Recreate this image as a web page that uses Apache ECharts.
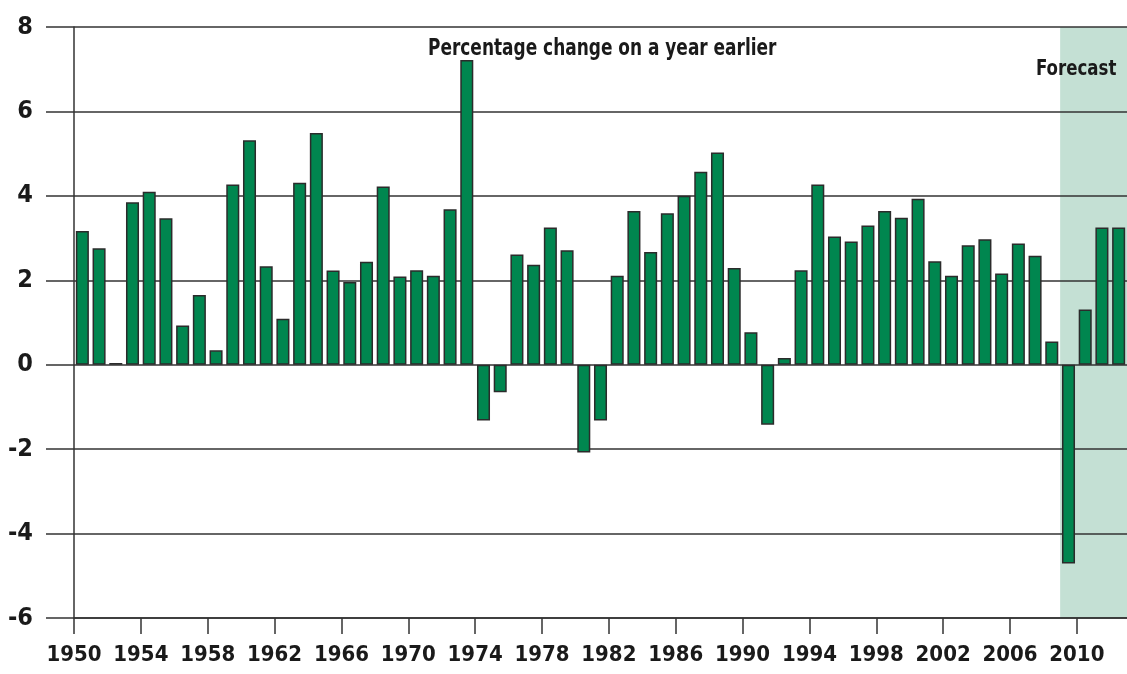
<!DOCTYPE html>
<html>
<head>
<meta charset="utf-8">
<script src="https://cdn.jsdelivr.net/npm/echarts@6/dist/echarts.min.js"></script>
<style>
  html, body { margin: 0; padding: 0; background: #fff; }
  #chart { width: 1127px; height: 674px; }
</style>
</head>
<body>
<div id="chart"></div>
<script>
var years = ['1950','1951','1952','1953','1954','1955','1956','1957','1958','1959',
  '1960','1961','1962','1963','1964','1965','1966','1967','1968','1969',
  '1970','1971','1972','1973','1974','1975','1976','1977','1978','1979',
  '1980','1981','1982','1983','1984','1985','1986','1987','1988','1989',
  '1990','1991','1992','1993','1994','1995','1996','1997','1998','1999',
  '2000','2001','2002','2003','2004','2005','2006','2007','2008','2009',
  '2010','2011','2012'];
var growth = [3.17, 2.76, 0.04, 3.85, 4.1, 3.47, 0.93, 1.65, 0.34, 4.27,
  5.32, 2.33, 1.09, 4.31, 5.49, 2.23, 1.96, 2.44, 4.22, 2.09,
  2.24, 2.11, 3.68, 7.22, -1.32, -0.65, 2.61, 2.37, 3.25, 2.71,
  -2.08, -1.32, 2.11, 3.64, 2.67, 3.59, 4.0, 4.57, 5.03, 2.29,
  0.77, -1.42, 0.16, 2.24, 4.27, 3.04, 2.92, 3.3, 3.64, 3.48,
  3.93, 2.45, 2.11, 2.83, 2.97, 2.16, 2.87, 2.58, 0.55, -4.71,
  1.31, 3.25, 3.25];
var tickYears = [1950,1954,1958,1962,1966,1970,1974,1978,1982,1986,1990,1994,1998,2002,2006,2010];
var forecastFrom = 2009;
var forecastTo = 2013; // end of 2012 slot

var font = '"DejaVu Sans Condensed", "DejaVu Sans", sans-serif';
var chart = echarts.init(document.getElementById('chart'));

var option = {
  animation: false,
  backgroundColor: '#fff',
  grid: { left: 74, right: 0, top: 27, bottom: 56, outerBoundsMode: 'none' },
  graphic: [
    {
      type: 'text',
      x: 428, y: 38,
      scaleX: 0.82,
      z: 10,
      style: {
        text: 'Percentage change on a year earlier',
        font: 'bold 23px ' + font,
        fill: '#1a1a1a',
        textVerticalAlign: 'top'
      }
    },
    {
      type: 'text',
      x: 1036, y: 58,
      scaleX: 0.84,
      z: 10,
      style: {
        text: 'Forecast',
        font: 'bold 22px ' + font,
        fill: '#1a1a1a',
        textVerticalAlign: 'top'
      }
    }
  ],
  xAxis: [
    {
      type: 'category',
      data: years,
      position: 'bottom',
      boundaryGap: true,
      z: 3,
      axisLine: { show: true, onZero: false, lineStyle: { color: '#333', width: 1.5 } },
      axisTick: { show: false },
      axisLabel: { show: false },
      splitLine: { show: false }
    },
    {
      // year scale used for the labelled ticks and the forecast band
      type: 'value',
      position: 'bottom',
      min: 1950, max: forecastTo, interval: 4,
      z: 3,
      axisLine: { show: false, onZero: false },
      axisTick: { show: true, length: 16, customValues: tickYears, lineStyle: { color: '#333', width: 1.5 } },
      axisLabel: {
        margin: 26,
        customValues: tickYears,
        fontFamily: font, fontWeight: 'bold', fontSize: 22, color: '#1a1a1a',
        formatter: function (v) { return String(v); }
      },
      splitLine: { show: false }
    }
  ],
  yAxis: {
    type: 'value',
    min: -6, max: 8, interval: 2,
    z: 3,
    axisLine: { show: true, onZero: false, lineStyle: { color: '#333', width: 1.5 } },
    axisTick: { show: true, length: 28, lineStyle: { color: '#333', width: 1.5 } },
    axisLabel: {
      margin: 41,
      fontFamily: font, fontWeight: 'bold', fontSize: 25, color: '#1a1a1a'
    },
    splitLine: { show: true, lineStyle: { color: '#333', width: 1.5 } }
  },
  series: [
    {
      type: 'line',
      xAxisIndex: 1,
      yAxisIndex: 0,
      data: [],
      silent: true,
      z: 1,
      markArea: {
        silent: true,
        itemStyle: { color: '#c4e0d4' },
        data: [[{ xAxis: forecastFrom }, { xAxis: forecastTo }]]
      }
    },
    {
      name: 'Growth',
      type: 'bar',
      xAxisIndex: 0,
      yAxisIndex: 0,
      data: growth,
      z: 4,
      barCategoryGap: '22%',
      itemStyle: { color: '#00864f', borderColor: '#2b2b2b', borderWidth: 1.5 }
    }
  ]
};
chart.setOption(option);
</script>
</body>
</html>
